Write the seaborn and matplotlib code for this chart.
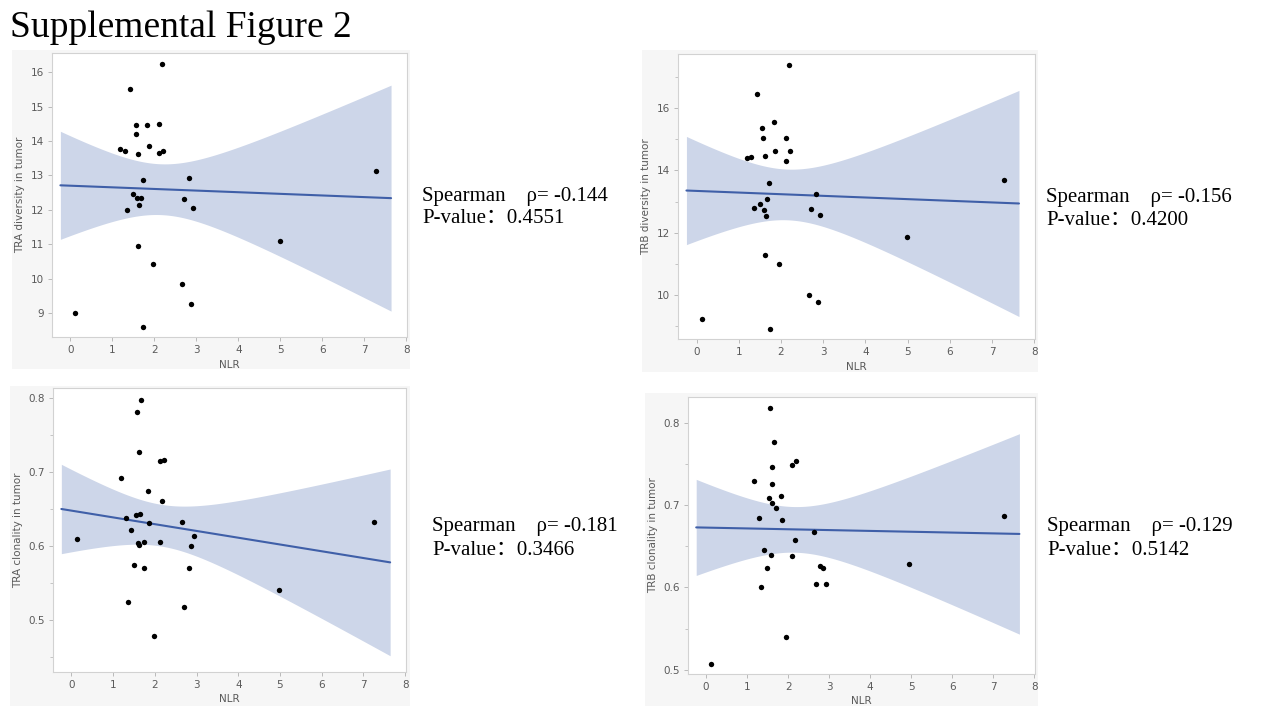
import numpy as np
import seaborn as sns
import matplotlib.pyplot as plt
from matplotlib.patches import Rectangle

# NLR values (x) and the four TCR metrics
tra_div_x = [2.18, 1.42, 1.55, 1.83, 2.12, 1.57, 1.18, 1.30, 1.61, 1.88, 2.12, 2.20, 1.72, 2.82, 1.50,
             1.59, 1.68, 1.64, 1.34, 2.70, 2.93, 7.29, 4.99, 1.61, 1.96, 2.66, 2.87, 0.12, 1.73]
tra_div_y = [16.25, 15.50, 14.46, 14.47, 14.50, 14.21, 13.77, 13.70, 13.63, 13.85, 13.66, 13.71, 12.87, 12.93, 12.45,
             12.34, 12.33, 12.14, 11.99, 12.30, 12.04, 13.12, 11.08, 10.95, 10.43, 9.83, 9.27, 9.00, 8.59]

trb_div_x = [2.18, 1.43, 1.83, 1.55, 1.58, 2.11, 1.87, 2.21, 1.19, 1.30, 1.63, 2.11, 1.72, 2.82, 1.67,
             1.51, 1.35, 1.59, 2.71, 1.64, 2.93, 7.28, 4.98, 1.62, 1.96, 2.66, 2.87, 0.13, 1.74]
trb_div_y = [17.39, 16.47, 15.55, 15.37, 15.05, 15.05, 14.63, 14.63, 14.39, 14.43, 14.46, 14.29, 13.59, 13.23, 13.09,
             12.93, 12.79, 12.73, 12.75, 12.53, 12.56, 13.70, 11.87, 11.28, 11.01, 10.00, 9.78, 9.24, 8.91]

tra_clo_x = [1.68, 1.58, 1.62, 2.12, 2.22, 1.20, 1.83, 2.18, 1.31, 1.55, 1.64, 1.87, 1.44, 2.66, 0.14,
             1.59, 1.62, 1.73, 2.12, 2.93, 2.87, 7.26, 1.51, 1.74, 2.82, 4.97, 1.36, 2.70, 1.97]
tra_clo_y = [0.798, 0.782, 0.728, 0.715, 0.716, 0.692, 0.674, 0.661, 0.638, 0.642, 0.644, 0.631, 0.622, 0.632, 0.609,
             0.604, 0.601, 0.605, 0.606, 0.613, 0.600, 0.633, 0.575, 0.570, 0.570, 0.540, 0.524, 0.518, 0.478]

trb_clo_x = [1.56, 1.66, 2.19, 2.10, 1.62, 1.18, 1.61, 1.53, 1.82, 1.60, 1.70, 1.29, 1.86, 2.64, 2.16,
             7.27, 1.41, 1.58, 2.10, 1.49, 2.79, 2.86, 1.33, 2.69, 2.92, 4.96, 1.95, 0.11]
trb_clo_y = [0.818, 0.777, 0.753, 0.748, 0.746, 0.729, 0.726, 0.709, 0.711, 0.702, 0.696, 0.684, 0.682, 0.667, 0.658,
             0.687, 0.645, 0.639, 0.638, 0.623, 0.626, 0.624, 0.601, 0.604, 0.604, 0.628, 0.540, 0.507]

y_labels = ["TRA diversity in tumor", "TRB diversity in tumor",
            "TRA clonality in tumor", "TRB clonality in tumor"]
rho_text = ["-0.144", "-0.156", "-0.181", "-0.129"]
p_text = ["0.4551", "0.4200", "0.3466", "0.5142"]

W, H = 1280, 720


def fig_box(x0, y0, x1, y1):
    # pixel box (top-left origin) -> figure fraction [left, bottom, width, height]
    return [x0 / W, 1 - y1 / H, (x1 - x0) / W, (y1 - y0) / H]


panels = [
    dict(x=tra_div_x, y=tra_div_y, bg=(12, 50, 410, 369), ax=(52, 53, 407, 337),
         ylim=(8.30, 16.56), major=np.arange(9, 17, 1), minor=None, txt=(422, 201, 223)),
    dict(x=trb_div_x, y=trb_div_y, bg=(642, 50, 1038, 372), ax=(678, 54, 1035, 339),
         ylim=(8.59, 17.74), major=np.arange(10, 17, 2), minor=np.arange(9, 18, 2), txt=(1046, 202, 225)),
    dict(x=tra_clo_x, y=tra_clo_y, bg=(10, 386, 410, 706), ax=(53, 388, 406, 672),
         ylim=(0.4295, 0.814), major=[0.5, 0.6, 0.7, 0.8], minor=[0.45, 0.55, 0.65, 0.75], txt=(432, 531, 555)),
    dict(x=trb_clo_x, y=trb_clo_y, bg=(645, 393, 1038, 706), ax=(688, 397, 1035, 674),
         ylim=(0.495, 0.831), major=[0.5, 0.6, 0.7, 0.8], minor=[0.55, 0.65, 0.75], txt=(1047, 531, 555)),
]

sns.set_theme(style="white")
plt.rcParams['font.family'] = ['DejaVu Sans']

fig = plt.figure(figsize=(12.8, 7.2), dpi=100)

serif = ['Liberation Serif', 'Noto Sans CJK SC']
fig.text(10 / W, 1 - 37 / H, "Supplemental Figure 2", family=serif, fontsize=27,
         color='black', va='baseline')

line_color = '#3f5fa8'
band_color = '#cdd6e9'
spine_color = '#d2d2d2'
text_gray = '#5a5a5a'
grid = np.linspace(-0.24, 7.64, 200)

for i, p in enumerate(panels):
    fig.add_artist(Rectangle((p['bg'][0] / W, 1 - p['bg'][3] / H),
                             (p['bg'][2] - p['bg'][0]) / W, (p['bg'][3] - p['bg'][1]) / H,
                             transform=fig.transFigure, facecolor='#f6f6f6', edgecolor='none', zorder=0))
    ax = fig.add_axes(fig_box(*p['ax']))
    ax.set_facecolor('white')

    x = np.array(p['x'])
    y = np.array(p['y'])
    # least squares fit with 95% confidence band of the mean
    n = len(x)
    slope, icpt = np.polyfit(x, y, 1)
    resid = y - (slope * x + icpt)
    s = np.sqrt(np.sum(resid ** 2) / (n - 2))
    sxx = np.sum((x - x.mean()) ** 2)
    t = 2.052 if n == 29 else 2.056
    fit = slope * grid + icpt
    half = t * s * np.sqrt(1 / n + (grid - x.mean()) ** 2 / sxx)

    ax.fill_between(grid, fit - half, fit + half, color=band_color, lw=0, zorder=1)
    sns.lineplot(x=grid, y=fit, color=line_color, lw=1.5, ax=ax, zorder=2)
    sns.scatterplot(x=x, y=y, color='black', s=15, linewidth=0, ax=ax, zorder=3)

    ax.set_xlim(-0.44, 8.02)
    ax.set_ylim(*p['ylim'])
    ax.set_xticks(range(0, 9))
    ax.set_yticks(p['major'])
    if p['minor'] is not None:
        ax.set_yticks(p['minor'], minor=True)
    ax.yaxis.set_major_formatter(plt.FuncFormatter(lambda v, _: f"{v:g}"))
    ax.tick_params(which='major', direction='out', length=3, width=0.6, color='#b0b0b0',
                   labelsize=7.5, labelcolor=text_gray, pad=3, left=True, bottom=True)
    ax.tick_params(which='minor', direction='out', length=2, width=0.5, color='#b0b0b0', left=True)
    for sp in ax.spines.values():
        sp.set_color(spine_color)
        sp.set_linewidth(0.8)
    ax.set_xlabel("NLR", fontsize=7.5, color=text_gray, labelpad=3)
    ax.set_ylabel(y_labels[i], fontsize=7.5, color=text_gray, labelpad=4)

    tx, b1, b2 = p['txt']
    fig.text(tx / W, 1 - b1 / H, "Spearman\u3000\u03c1= " + rho_text[i], family=serif,
             fontsize=15, color='black', va='baseline')
    fig.text(tx / W, 1 - b2 / H, "P-value\uff1a" + p_text[i], family=serif,
             fontsize=15, color='black', va='baseline')

fig.savefig("out.png", dpi=100)
